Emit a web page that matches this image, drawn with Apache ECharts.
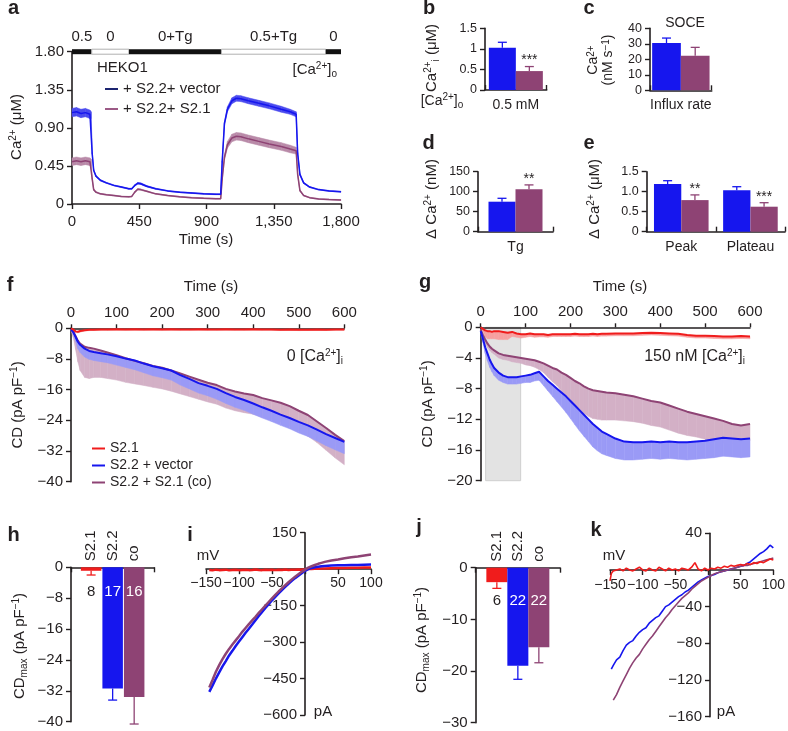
<!DOCTYPE html>
<html><head><meta charset="utf-8">
<script src="https://cdn.jsdelivr.net/npm/echarts@6/dist/echarts.min.js"></script>
<style>html,body{margin:0;padding:0;background:#fff}#c{width:788px;height:731px}</style>
</head><body><div id="c"></div>
<script>
// ================= DATA =================
// Panel a: cytosolic Ca2+ time course
const aTime = [0,30,60,90,120,128,135,145,160,190,230,280,330,380,400,420,440,460,500,560,640,720,800,880,960,995,1005,1020,1040,1070,1100,1130,1180,1250,1320,1400,1460,1500,1510,1525,1550,1590,1650,1720,1800];
const aVector = [1.08,1.09,1.07,1.08,1.06,1.05,0.60,0.40,0.33,0.28,0.25,0.22,0.20,0.18,0.18,0.22,0.245,0.24,0.21,0.18,0.155,0.14,0.13,0.12,0.115,0.115,0.50,0.95,1.12,1.22,1.25,1.245,1.22,1.19,1.16,1.12,1.09,1.06,0.60,0.35,0.25,0.20,0.17,0.155,0.145];
const aVectorErr = [0.05,0.05,0.05,0.05,0.05,0.04,0.01,0.01,0.01,0.008,0.006,0.006,0.006,0.006,0.006,0.008,0.01,0.01,0.008,0.006,0.005,0.005,0.005,0.005,0.005,0.005,0.01,0.02,0.03,0.035,0.035,0.035,0.035,0.035,0.035,0.035,0.03,0.03,0.01,0.01,0.008,0.006,0.005,0.005,0.005];
const aCo = [0.50,0.51,0.50,0.51,0.50,0.49,0.30,0.17,0.14,0.12,0.11,0.10,0.09,0.085,0.09,0.14,0.175,0.17,0.15,0.12,0.10,0.085,0.075,0.068,0.063,0.063,0.30,0.55,0.70,0.78,0.80,0.795,0.77,0.74,0.71,0.68,0.65,0.63,0.35,0.16,0.10,0.075,0.06,0.052,0.047];
const aCoErr = [0.045,0.045,0.045,0.045,0.045,0.04,0.01,0.01,0.008,0.006,0.005,0.005,0.005,0.005,0.005,0.006,0.008,0.008,0.006,0.005,0.005,0.005,0.005,0.005,0.005,0.005,0.02,0.03,0.04,0.045,0.045,0.045,0.045,0.045,0.045,0.045,0.045,0.04,0.01,0.008,0.005,0.005,0.005,0.005,0.005];
const aStimStart = [0,132,381,1000,1698];
const aStimEnd = [132,381,1000,1698,1800];
const aStimLabel = ['0.5','0','0+Tg','0.5+Tg','0'];
const aStimOn = [1,0,1,0,1];
const aXTicks = ['0','450','900','1,350','1,800'];
const aYTicks = ['0','0.45','0.90','1.35','1.80'];

// Panel b
const bCats = ['0.5 mM'];
const bVector = [1.03], bVectorErr = [0.13];
const bCo = [0.46], bCoErr = [0.11], bSig = ['***'];
// Panel c
const cCats = ['Influx rate'];
const cVector = [30.5], cVectorErr = [3.2];
const cCo = [22.3], cCoErr = [5.4];
// Panel d
const dCats = ['Tg'];
const dVector = [75], dVectorErr = [8.5];
const dCo = [106], dCoErr = [11];
const dSig = ['**'];
// Panel e
const eCats = ['Peak','Plateau'];
const eVector = [1.19,1.035], eVectorErr = [0.085,0.09];
const eCo = [0.79,0.625], eCoErr = [0.13,0.1];
const eSig = ['**','***'];

// Panel f: 0 [Ca2+]i
const fTime = [0,5,10,15,20,30,40,50,65,80,100,120,140,160,180,200,220,240,260,280,300,320,340,360,380,400,420,440,460,480,500,520,540,560,580,600];
const fRed = [0,-0.3,-0.8,-0.9,-0.7,-0.5,-0.4,-0.35,-0.3,-0.3,-0.25,-0.3,-0.25,-0.3,-0.25,-0.3,-0.25,-0.3,-0.3,-0.25,-0.3,-0.3,-0.25,-0.3,-0.3,-0.25,-0.3,-0.3,-0.35,-0.3,-0.4,-0.35,-0.3,-0.35,-0.3,-0.3];
const fRedErr = [0,0.2,0.3,0.3,0.3,0.2,0.2,0.2,0.2,0.2,0.2,0.2,0.2,0.2,0.2,0.2,0.2,0.2,0.2,0.2,0.2,0.2,0.2,0.2,0.2,0.2,0.2,0.2,0.2,0.2,0.2,0.2,0.2,0.2,0.2,0.2];
const fVector = [-0.3,-1.0,-2.2,-3.5,-4.3,-5.3,-5.9,-6.2,-6.5,-6.8,-7.3,-7.9,-8.4,-9.2,-9.9,-10.4,-11.0,-12.2,-13.2,-14.3,-15.0,-15.8,-16.9,-17.9,-18.7,-19.6,-20.6,-21.5,-22.5,-23.4,-24.4,-25.3,-26.4,-27.6,-28.6,-29.6];
const fVectorErr = [0.3,0.6,1.2,1.8,2.0,2.2,2.2,2.2,2.2,2.2,2.3,2.3,2.4,2.4,2.5,2.5,2.5,2.6,2.6,2.6,2.6,2.7,2.7,2.7,2.7,2.8,2.8,2.8,2.8,2.8,2.9,2.9,3.0,3.0,3.1,3.1];
const fCo = [-0.3,-0.9,-2.0,-3.2,-4.0,-4.8,-5.1,-5.3,-5.8,-6.3,-7.0,-7.8,-8.5,-9.1,-9.8,-10.3,-11.0,-11.8,-12.6,-13.4,-14.2,-14.8,-15.8,-16.5,-17.0,-17.4,-18.2,-18.8,-19.4,-20.3,-21.5,-22.6,-24.3,-26.0,-27.8,-29.4];
const fCoErr = [0.3,1.5,3.5,5.5,7.0,8.0,8.0,7.5,7.0,6.8,6.5,6.3,6.0,5.8,5.6,5.5,5.4,5.3,5.2,5.1,5.0,5.0,5.0,5.0,5.0,5.0,5.0,5.0,5.0,5.2,5.2,5.5,5.5,5.8,6.0,6.2];

// Panel g: 150 nM [Ca2+]i
const gTime = [0,5,10,15,20,25,30,40,50,60,70,80,90,100,110,120,130,140,150,160,170,180,190,200,210,220,230,240,250,260,270,280,300,320,340,360,380,400,420,440,460,480,500,520,540,560,580,600];
const gRed = [0,-0.2,-0.4,-0.5,-0.5,-0.6,-0.5,-0.5,-0.6,-0.7,-0.6,-0.8,-0.9,-0.9,-0.8,-0.9,-0.9,-0.9,-1.0,-0.9,-0.9,-0.9,-0.9,-0.9,-0.85,-0.9,-0.9,-0.9,-0.85,-0.9,-0.85,-0.85,-0.8,-0.8,-0.8,-0.75,-0.7,-0.75,-0.8,-0.85,-1.0,-1.1,-1.1,-1.15,-1.2,-1.2,-1.15,-1.2];
const gRedErr = [0,0.3,0.8,1.0,1.0,0.9,1.0,1.1,1.0,0.9,0.6,0.5,0.5,0.4,0.4,0.4,0.35,0.35,0.3,0.3,0.3,0.3,0.3,0.3,0.3,0.3,0.3,0.3,0.3,0.3,0.3,0.3,0.3,0.3,0.3,0.3,0.3,0.3,0.3,0.3,0.3,0.3,0.3,0.3,0.3,0.3,0.3,0.3];
const gVector = [-0.5,-1.5,-2.6,-3.4,-4.2,-4.8,-5.3,-5.9,-6.3,-6.5,-6.5,-6.5,-6.4,-6.3,-6.2,-6.0,-5.8,-6.4,-7.0,-7.5,-8.0,-8.5,-9.0,-9.6,-10.2,-10.8,-11.4,-12.0,-12.6,-13.1,-13.6,-13.9,-14.5,-14.9,-15.0,-15.0,-14.9,-15.0,-14.9,-15.0,-15.0,-14.9,-14.8,-14.6,-14.4,-14.5,-14.6,-14.5];
const gVectorErr = [0.2,0.5,0.8,1.0,1.0,1.0,1.0,1.0,0.9,0.9,0.9,0.9,0.9,0.9,1.0,1.0,1.1,1.2,1.3,1.5,1.7,1.9,2.1,2.3,2.5,2.7,2.8,2.9,3.0,3.0,2.9,2.8,2.6,2.4,2.3,2.2,2.2,2.2,2.2,2.2,2.3,2.3,2.3,2.4,2.4,2.4,2.4,2.4];
const gCo = [-0.3,-1.0,-1.6,-2.1,-2.5,-2.8,-3.0,-3.4,-3.6,-3.7,-3.8,-3.9,-4.0,-4.1,-4.2,-4.3,-4.5,-4.7,-5.0,-5.3,-5.5,-5.9,-6.2,-6.6,-7.0,-7.3,-7.7,-8.0,-8.2,-8.3,-8.4,-8.5,-8.6,-8.8,-9.0,-9.3,-9.6,-9.8,-10.2,-10.6,-11.0,-11.3,-11.6,-11.9,-12.2,-12.6,-12.8,-12.6];
const gCoErr = [0.1,0.3,0.4,0.5,0.5,0.5,0.5,0.6,0.6,0.6,0.7,0.7,0.7,0.8,0.8,0.9,1.0,1.2,1.5,1.8,2.1,2.4,2.7,3.0,3.2,3.4,3.5,3.6,3.7,3.7,3.7,3.6,3.5,3.4,3.3,3.2,3.2,3.2,3.2,3.2,3.1,3.0,3.0,3.0,2.9,2.6,2.4,2.2];
const gShade = [11, 89];

// Panel h
const hGroups = ['S2.1','S2.2','co'];
const hValues = [-0.9,-31.4,-33.6];
const hErr = [1.1,3.0,7.0];
const hN = ['8','17','16'];

// Panel i: I-V (mV -> pA)
const iVolt = [-145,-140,-135,-130,-125,-120,-115,-110,-105,-100,-95,-90,-85,-80,-75,-70,-65,-60,-55,-50,-45,-40,-35,-30,-25,-20,-15,-10,-5,0,5,10,15,20,25,30,40,50,60,70,80,90,100];
const iRed = [-3,-5,-2,-4,-3,-2,-5,-3,-2,-4,-3,-2,-4,-3,-1,-3,-4,-2,-3,-2,-4,-2,-3,-1,-3,-2,-2,-1,-2,0,1,1,2,2,3,3,4,5,5,6,6,7,7];
const iVector = [-505,-478,-450,-425,-400,-378,-355,-336,-316,-298,-280,-262,-245,-228,-210,-193,-176,-160,-144,-128,-114,-100,-86,-73,-60,-48,-37,-27,-17,-7,0,5,8,10,12,13,15,16,16,17,17,18,19];
const iCo = [-487,-455,-422,-395,-370,-348,-328,-310,-293,-276,-258,-242,-226,-211,-196,-180,-165,-150,-135,-120,-106,-92,-79,-66,-54,-42,-31,-21,-11,-2,6,12,17,22,26,30,36,40,45,49,52,56,60];

// Panel j
const jGroups = ['S2.1','S2.2','co'];
const jValues = [-2.8,-19.0,-15.4];
const jErr = [1.2,2.6,3.0];
const jN = ['6','22','22'];

// Panel k: I-V (mV -> pA)
const kVolt = [-150,-148,-145,-140,-135,-130,-125,-120,-115,-110,-105,-100,-95,-90,-85,-80,-75,-70,-65,-60,-55,-50,-45,-40,-35,-30,-25,-20,-15,-10,-5,0,5,10,15,20,25,30,35,40,45,50,55,60,65,70,75,80,85,90,95,100];
const kRed = [-12,-4,-1,0,1,-1,2,0,-1,1,3,0,-1,2,0,-1,3,1,-1,2,0,1,-1,2,1,0,3,8,1,-1,2,0,2,1,3,2,4,3,5,4,5,6,5,7,6,8,7,9,8,10,12,11];
const kVector = [null,-108,-104,-98,-95,-88,-82,-79,-77,-72,-68,-65,-63,-58,-55,-52,-50,-45,-40,-38,-35,-32,-29,-27,-24,-22,-19,-16,-13,-11,-9,-7,-6,-5,-3,-2,-1,0,1,2,3,4,5,7,9,12,15,18,20,23,27,24];
const kCo = [null,null,-142,-136,-128,-121,-114,-107,-101,-96,-92,-86,-81,-76,-72,-67,-62,-57,-52,-48,-43,-39,-35,-31,-28,-25,-21,-18,-15,-12,-10,-8,-6,-4,-3,-2,-1,0,1,2,3,4,5,5,6,7,8,9,10,11,12,13];

// ================= STYLE =================
const FONT = "'Liberation Sans', Arial, Helvetica, sans-serif";
const INK = '#231f20';
const BLUE = '#1616ee', PURPLE = '#8e4374', RED = '#f01c1c';
const FS = 15, FS_SMALL = 12.5, FS_CAT = 14, FS_IV = 14;
const N_LABEL_LEVEL = -6.4;
const RICH = {
  sup: {fontSize: 10, lineHeight: 10, verticalAlign: 'top', fontFamily: FONT, fill: INK},
  sub: {fontSize: 10, lineHeight: 10, verticalAlign: 'bottom', fontFamily: FONT, fill: INK}
};
const minus = v => v === 0 ? '0' : (v < 0 ? '\u2212' + Math.abs(v) : String(v));
const minusNo0 = v => v === 0 ? '' : minus(v);

function axLine() { return {show: true, onZero: false, lineStyle: {color: INK, width: 1.6}}; }
function axTick(inside) { return {show: true, inside: !!inside, length: 5, lineStyle: {color: INK, width: 1.4}}; }
function axLabel(fmt, extra) {
  return Object.assign({color: INK, fontSize: FS, fontFamily: FONT, formatter: fmt,
    showMinLabel: true, showMaxLabel: true, hideOverlap: false}, extra || {});
}
function vAxis(gi, pos, min, max, interval, fmt, o) {
  return Object.assign({type: 'value', gridIndex: gi, position: pos, min, max, interval,
    axisLine: axLine(), axisTick: axTick(false), axisLabel: axLabel(fmt), splitLine: {show: false}}, o || {});
}
function cAxis(gi, pos, cats, showLabel) {
  return {type: 'category', gridIndex: gi, position: pos, data: cats,
    axisLine: axLine(), axisTick: axTick(true),
    axisLabel: axLabel(undefined, {show: showLabel, margin: 8, fontSize: FS_CAT}), splitLine: {show: false}};
}
function lineS(gi, name, xs, ys, color, width, z) {
  return {type: 'line', name, xAxisIndex: gi, yAxisIndex: gi,
    data: xs.map((x, i) => [x, ys[i]]).filter(p => p[1] != null),
    symbol: 'none', lineStyle: {color, width}, itemStyle: {color}, z: z || 3, silent: true};
}
function bandS(gi, xs, lo, hi, fill, z) {
  return {type: 'custom', xAxisIndex: gi, yAxisIndex: gi, silent: true, z: z || 1,
    data: xs.slice(0, -1).map((t, i) => [t, lo[i], hi[i], xs[i + 1], lo[i + 1], hi[i + 1]]),
    encode: {x: [0, 3], y: [1, 2, 4, 5]},
    renderItem: (params, api) => {
      const p1 = api.coord([api.value(0), api.value(1)]);
      const p2 = api.coord([api.value(0), api.value(2)]);
      const p3 = api.coord([api.value(3), api.value(5)]);
      const p4 = api.coord([api.value(3), api.value(4)]);
      return {type: 'polygon', shape: {points: [p1, p2, p3, p4]}, style: {fill, stroke: fill, lineWidth: 0.5}};
    }};
}
const symBand = (m, e) => [m.map((v, i) => v - e[i]), m.map((v, i) => v + e[i])];
const downBand = (m, e) => [m.map((v, i) => v - e[i]), m.slice()];

function barS(gi, vals, color, w, gap) {
  return {type: 'bar', xAxisIndex: gi, yAxisIndex: gi, data: vals, barWidth: w, barGap: gap,
    itemStyle: {color}, z: 2, silent: true};
}
function errS(gi, vals, errs, color, offset, sigs) {
  return {type: 'custom', xAxisIndex: gi, yAxisIndex: gi, z: 4, silent: true,
    data: vals.map((v, i) => [i, v, errs[i]]),
    renderItem: (params, api) => {
      const i = params.dataIndex, c = api.value(0), v = api.value(1), e = api.value(2);
      const p0 = api.coord([c, v]), p1 = api.coord([c, v + e]);
      const x = p0[0] + offset;
      const ch = [
        {type: 'line', shape: {x1: x, y1: p0[1], x2: x, y2: p1[1]}, style: {stroke: color, lineWidth: 1.3}},
        {type: 'line', shape: {x1: x - 4.5, y1: p1[1], x2: x + 4.5, y2: p1[1]}, style: {stroke: color, lineWidth: 1.3}}
      ];
      if (sigs && sigs[i]) ch.push({type: 'text', x: x, y: p1[1] - 6,
        style: {text: sigs[i], align: 'center', verticalAlign: 'middle', fill: INK, fontSize: 14, fontFamily: FONT}});
      return {type: 'group', children: ch};
    }};
}
function groupErrS(gi, vals, errs, names, ns, colors, nColors, step) {
  return {type: 'custom', xAxisIndex: gi, yAxisIndex: gi, z: 4, silent: true,
    data: vals.map((v, k) => [0, v, errs[k], k]),
    renderItem: (params, api) => {
      const v = api.value(1), e = api.value(2), k = api.value(3);
      const p0 = api.coord([0, v]), p1 = api.coord([0, v - e]);
      const x = p0[0] + (k - 1) * step;
      const axisY = api.coord([0, 0])[1];
      const nY = api.coord([0, N_LABEL_LEVEL])[1];
      return {type: 'group', children: [
        {type: 'line', shape: {x1: x, y1: p0[1], x2: x, y2: p1[1]}, style: {stroke: colors[k], lineWidth: 1.3}},
        {type: 'line', shape: {x1: x - 4.5, y1: p1[1], x2: x + 4.5, y2: p1[1]}, style: {stroke: colors[k], lineWidth: 1.3}},
        {type: 'text', x: x, y: axisY - 6, rotation: Math.PI / 2,
          style: {text: names[k], align: 'left', verticalAlign: 'middle', fill: INK, fontSize: FS, fontFamily: FONT}},
        {type: 'text', x: x, y: nY,
          style: {text: ns[k], align: 'center', verticalAlign: 'middle', fill: nColors[k], fontSize: FS, fontFamily: FONT}}
      ]};
    }};
}
function T(x, y, text, o) {
  o = o || {};
  return {type: 'text', x, y, rotation: o.rot || 0, silent: true, z: 10,
    style: {text, fill: INK, fontSize: o.size || FS, fontFamily: FONT, fontWeight: o.bold ? 'bold' : 'normal',
      align: o.align || 'center', verticalAlign: 'middle', lineHeight: o.lh || 18, rich: RICH}};
}
const ROT = Math.PI / 2;

// ================= LAYOUT =================
const grids = [
  {left: 72, top: 51.7, width: 269, height: 152.3},      // 0 a
  {left: 485, top: 28.3, width: 61.7, height: 61.7},     // 1 b
  {left: 650, top: 28.3, width: 61.7, height: 62},       // 2 c
  {left: 478, top: 171.7, width: 75, height: 60},        // 3 d
  {left: 646.7, top: 171.7, width: 138.3, height: 60},   // 4 e
  {left: 71, top: 328.3, width: 273.3, height: 153.4},   // 5 f
  {left: 480.7, top: 327.3, width: 269.3, height: 153.4},// 6 g
  {left: 71, top: 567.3, width: 83.3, height: 154.4},    // 7 h
  {left: 206, top: 532.7, width: 165, height: 182.3},    // 8 i
  {left: 475.7, top: 567.7, width: 84.3, height: 155},   // 9 j
  {left: 610, top: 533.3, width: 166.7, height: 183.4}   // 10 k
].map(g => Object.assign({containLabel: false}, g));

// I-V axes cross at zero: shift each axis inward to the other axis' zero
const IV = {i: {x: [-150, 100], y: [-600, 150], g: grids[8]}, k: {x: [-150, 100], y: [-160, 40], g: grids[10]}};
const zeroOffX = p => -p.g.height * (0 - p.y[0]) / (p.y[1] - p.y[0]);
const zeroOffY = p => -p.g.width * (0 - p.x[0]) / (p.x[1] - p.x[0]);

const topTick = {axisTick: {show: true, length: 4, lineStyle: {color: INK, width: 1.4}}};
const small = fmt => ({axisLabel: axLabel(fmt, {fontSize: FS_SMALL})});
const xAxes = [
  vAxis(0, 'bottom', 0, 1800, 450, null, {axisLabel: axLabel(v => aXTicks[Math.round(v / 450)], {margin: 10})}),
  cAxis(1, 'bottom', bCats, true),
  cAxis(2, 'bottom', cCats, true),
  cAxis(3, 'bottom', dCats, true),
  cAxis(4, 'bottom', eCats, true),
  vAxis(5, 'top', 0, 600, 100, v => String(v), topTick),
  vAxis(6, 'top', 0, 600, 100, v => String(v), topTick),
  cAxis(7, 'top', [''], false),
  vAxis(8, 'bottom', IV.i.x[0], IV.i.x[1], 50, null, {offset: zeroOffX(IV.i), axisLabel: axLabel(minusNo0, {margin: 7, fontSize: FS_IV})}),
  cAxis(9, 'top', [''], false),
  vAxis(10, 'bottom', IV.k.x[0], IV.k.x[1], 50, null, {offset: zeroOffX(IV.k), axisLabel: axLabel(minusNo0, {margin: 8, fontSize: FS_IV})})
];
const yAxes = [
  vAxis(0, 'left', 0, 1.8, 0.45, v => aYTicks[Math.round(v / 0.45)]),
  vAxis(1, 'left', 0, 1.5, 0.5, null, small(v => String(v))),
  vAxis(2, 'left', 0, 40, 10, null, small(v => String(v))),
  vAxis(3, 'left', 0, 150, 50, null, small(v => String(v))),
  vAxis(4, 'left', 0, 1.5, 0.5, null, small(v => v === 0 ? '0' : v.toFixed(1))),
  vAxis(5, 'left', -40, 0, 8, minus),
  vAxis(6, 'left', -20, 0, 4, minus),
  vAxis(7, 'left', -40, 0, 8, minus),
  vAxis(8, 'left', IV.i.y[0], IV.i.y[1], 150, minusNo0, {offset: zeroOffY(IV.i)}),
  vAxis(9, 'left', -30, 0, 10, minus),
  vAxis(10, 'left', IV.k.y[0], IV.k.y[1], 40, minusNo0, {offset: zeroOffY(IV.k)})
];

// ================= SERIES =================
const series = [];
// a
let bb = symBand(aCo, aCoErr); series.push(bandS(0, aTime, bb[0], bb[1], '#b98aa8'));
bb = symBand(aVector, aVectorErr); series.push(bandS(0, aTime, bb[0], bb[1], '#4a4aee'));
series.push(lineS(0, '+ S2.2+ S2.1', aTime, aCo, PURPLE, 1.5, 3));
series.push(lineS(0, '+ S2.2+ vector', aTime, aVector, BLUE, 1.5, 4));
series.push({type: 'custom', xAxisIndex: 0, yAxisIndex: 0, z: 6, silent: true,
  data: aStimStart.map((s, i) => [s, aStimEnd[i], aStimOn[i]]),
  encode: {x: [0, 1]},
  renderItem: (params, api) => {
    const i = params.dataIndex;
    const p0 = api.coord([api.value(0), 1.8]), p1 = api.coord([api.value(1), 1.8]);
    const on = api.value(2) === 1;
    return {type: 'group', children: [
      {type: 'rect', shape: {x: p0[0], y: p0[1] - 2.5, width: p1[0] - p0[0], height: 5},
        style: on ? {fill: '#111'} : {fill: '#fff', stroke: '#b0b0b0', lineWidth: 1}},
      {type: 'text', x: (p0[0] + p1[0]) / 2, y: p0[1] - 14.5,
        style: {text: aStimLabel[i], align: 'center', verticalAlign: 'middle', fill: INK, fontSize: FS, fontFamily: FONT}}
    ]};
  }});
// b
series.push(barS(1, bVector, BLUE, 27, '0%'), barS(1, bCo, PURPLE, 27, '0%'));
series.push(errS(1, bVector, bVectorErr, BLUE, -13.5), errS(1, bCo, bCoErr, PURPLE, 13.5, bSig));
// c
series.push(barS(2, cVector, BLUE, 28.7, '0%'), barS(2, cCo, PURPLE, 28.7, '0%'));
series.push(errS(2, cVector, cVectorErr, BLUE, -14.35), errS(2, cCo, cCoErr, PURPLE, 14.35));
// d
series.push(barS(3, dVector, BLUE, 27, '0%'), barS(3, dCo, PURPLE, 27, '0%'));
series.push(errS(3, dVector, dVectorErr, BLUE, -13.5), errS(3, dCo, dCoErr, PURPLE, 13.5, dSig));
// e
series.push(barS(4, eVector, BLUE, 27.3, '0%'), barS(4, eCo, PURPLE, 27.3, '0%'));
series.push(errS(4, eVector, eVectorErr, BLUE, -13.65), errS(4, eCo, eCoErr, PURPLE, 13.65, eSig));
// f
bb = downBand(fCo, fCoErr); series.push(bandS(5, fTime, bb[0], bb[1], '#d3b0c6', 1));
bb = downBand(fVector, fVectorErr); series.push(bandS(5, fTime, bb[0], bb[1], '#9a9af6', 2));
bb = downBand(fRed, fRedErr); series.push(bandS(5, fTime, bb[0], bb[1], '#f7a0a0', 2));
series.push(lineS(5, 'S2.2 + S2.1 (co)', fTime, fCo, PURPLE, 2, 3));
series.push(lineS(5, 'S2.2 + vector', fTime, fVector, BLUE, 2, 4));
series.push(lineS(5, 'S2.1', fTime, fRed, RED, 2, 5));
// g
series.push({type: 'custom', xAxisIndex: 6, yAxisIndex: 6, z: 0, silent: true,
  data: [[gShade[0], gShade[1]]], encode: {x: [0, 1]},
  renderItem: (params, api) => {
    const p0 = api.coord([api.value(0), 0]), p1 = api.coord([api.value(1), -20]);
    return {type: 'rect', shape: {x: p0[0], y: p0[1], width: p1[0] - p0[0], height: p1[1] - p0[1]},
      style: {fill: '#e3e3e3', stroke: '#cfcfcf', lineWidth: 1}};
  }});
bb = downBand(gCo, gCoErr); series.push(bandS(6, gTime, bb[0], bb[1], '#d3b0c6', 1));
bb = downBand(gVector, gVectorErr); series.push(bandS(6, gTime, bb[0], bb[1], '#9a9af6', 2));
bb = downBand(gRed, gRedErr); series.push(bandS(6, gTime, bb[0], bb[1], '#f7a0a0', 2));
series.push(lineS(6, 'S2.2 + S2.1 (co)', gTime, gCo, PURPLE, 2, 3));
series.push(lineS(6, 'S2.2 + vector', gTime, gVector, BLUE, 2, 4));
series.push(lineS(6, 'S2.1', gTime, gRed, RED, 2, 5));
// h
series.push(barS(7, [hValues[0]], RED, 20.5, '5%'), barS(7, [hValues[1]], BLUE, 20.5, '5%'), barS(7, [hValues[2]], PURPLE, 20.5, '5%'));
series.push(groupErrS(7, hValues, hErr, hGroups, hN, [RED, BLUE, PURPLE], [INK, '#fff', '#fff'], 20.5 * 1.05));
// i
series.push(lineS(8, 'S2.1', iVolt, iRed, RED, 2.5, 3));
series.push(lineS(8, 'S2.2 + vector', iVolt, iVector, BLUE, 2.5, 4));
series.push(lineS(8, 'S2.2 + S2.1 (co)', iVolt, iCo, PURPLE, 2.5, 5));
// j
series.push(barS(9, [jValues[0]], RED, 21, '0%'), barS(9, [jValues[1]], BLUE, 21, '0%'), barS(9, [jValues[2]], PURPLE, 21, '0%'));
series.push(groupErrS(9, jValues, jErr, jGroups, jN, [RED, BLUE, PURPLE], [INK, '#fff', '#fff'], 21));
// k
series.push(lineS(10, 'S2.2 + vector', kVolt, kVector, BLUE, 1.6, 3));
series.push(lineS(10, 'S2.2 + S2.1 (co)', kVolt, kCo, PURPLE, 1.6, 4));
series.push(lineS(10, 'S2.1', kVolt, kRed, RED, 1.6, 5));

// ================= TEXT =================
const graphic = [
  // panel letters
  T(13.5, 8.5, 'a', {bold: true, size: 20}), T(429, 8, 'b', {bold: true, size: 20}), T(589, 8, 'c', {bold: true, size: 20}),
  T(428.5, 143, 'd', {bold: true, size: 20}), T(589, 143, 'e', {bold: true, size: 20}),
  T(10, 285, 'f', {bold: true, size: 20}), T(425, 282.5, 'g', {bold: true, size: 20}),
  T(13.5, 535, 'h', {bold: true, size: 20}), T(190, 535, 'i', {bold: true, size: 20}),
  T(419, 527, 'j', {bold: true, size: 20}), T(596, 530, 'k', {bold: true, size: 20}),
  // panel a
  T(97, 68, 'HEKO1', {align: 'left'}),
  T(337, 70, '[Ca{sup|2+}]{sub|o}', {align: 'right'}),
  T(17, 127, 'Ca{sup|2+} (\u03bcM)', {rot: ROT}),
  T(206, 240, 'Time (s)'),
  // b, c, d, e
  T(432, 58, 'Ca{sup|2+}{sub|i} (\u03bcM)', {rot: ROT}),
  T(442, 101, '[Ca{sup|2+}]{sub|o}', {size: FS_CAT}),
  T(685, 23, 'SOCE', {size: FS_CAT}),
  T(601, 60, 'Ca{sup|2+}\n(nM s{sup|\u22121})', {rot: ROT, lh: 15, size: FS_CAT}),
  T(432, 199, '\u0394 Ca{sup|2+} (nM)', {rot: ROT}),
  T(595, 199, '\u0394 Ca{sup|2+} (\u03bcM)', {rot: ROT}),
  // f, g
  T(211, 287, 'Time (s)'), T(620, 287, 'Time (s)'),
  T(18, 405, 'CD (pA pF{sup|\u22121})', {rot: ROT}),
  T(428, 404, 'CD (pA pF{sup|\u22121})', {rot: ROT}),
  T(343, 357, '0 [Ca{sup|2+}]{sub|i}', {align: 'right', size: 16}),
  T(745, 357, '150 nM [Ca{sup|2+}]{sub|i}', {align: 'right', size: 16}),
  // h, i, j, k
  T(20, 646, 'CD{sub|max} (pA pF{sup|\u22121})', {rot: ROT}),
  T(422, 640, 'CD{sub|max} (pA pF{sup|\u22121})', {rot: ROT}),
  T(208, 556, 'mV'), T(323, 712, 'pA'),
  T(614, 556, 'mV'), T(726, 712, 'pA')
];

const option = {
  animation: false,
  backgroundColor: '#fff',
  textStyle: {fontFamily: FONT},
  grid: grids, xAxis: xAxes, yAxis: yAxes, series, graphic,
  legend: [
    {left: 100, top: 76, orient: 'vertical', icon: 'rect', itemWidth: 13, itemHeight: 2, itemGap: 4, selectedMode: false,
      textStyle: {fontSize: FS, fontFamily: FONT, color: INK, lineHeight: 16},
      data: [{name: '+ S2.2+ vector', itemStyle: {color: '#1c2470'}}, {name: '+ S2.2+ S2.1', itemStyle: {color: '#9c5a86'}}]},
    {left: 87, top: 436, orient: 'vertical', icon: 'rect', itemWidth: 13, itemHeight: 2, itemGap: 2, selectedMode: false,
      textStyle: {fontSize: 14, fontFamily: FONT, color: INK, lineHeight: 15},
      data: ['S2.1', 'S2.2 + vector', 'S2.2 + S2.1 (co)']}
  ]
};
const chart = echarts.init(document.getElementById('c'), null, {width: 788, height: 731});
chart.setOption(option);
</script></body></html>
